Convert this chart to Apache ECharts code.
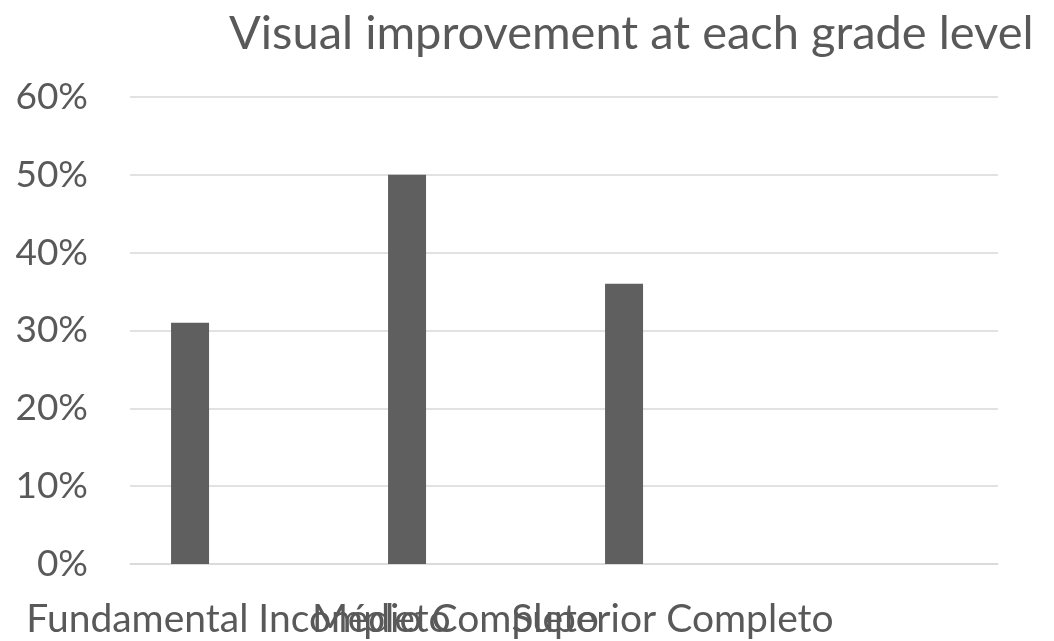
<!DOCTYPE html>
<html>
<head>
<meta charset="utf-8">
<script src="https://cdn.jsdelivr.net/npm/echarts@6/dist/echarts.min.js"></script>
<style>
html,body{margin:0;padding:0;background:#fff;}
#chart{width:1054px;height:641px;}
</style>
</head>
<body>
<div id="chart"></div>
<script>
const titleText = 'Visual improvement at each grade level';
const categories = ['Fundamental Incompleto', 'Médio Completo', 'Superior Completo', ''];
const improvement = [0.31, 0.50, 0.36, null];
const emptySeries = [null, null, null, null];
const yTicks = [0, 0.1, 0.2, 0.3, 0.4, 0.5, 0.6];

const FONT = 'Lato';
const chart = echarts.init(document.getElementById('chart'));
chart.setOption({
  animation: false,
  title: {
    text: titleText,
    left: 224,
    top: 5,
    textStyle: {fontFamily: FONT, fontSize: 47, fontWeight: 'normal', color: '#595959'}
  },
  grid: {left: 130, right: 56, top: 97, bottom: 77, containLabel: false},
  xAxis: {
    type: 'category',
    data: categories,
    axisLine: {show: true, lineStyle: {color: '#d9d9d9', width: 1.5}},
    axisTick: {show: false},
    axisLabel: {interval: 0, margin: 36, fontFamily: FONT, fontSize: 39, color: '#595959', overflow: 'none', hideOverlap: false}
  },
  yAxis: {
    type: 'value',
    min: yTicks[0],
    max: yTicks[yTicks.length - 1],
    interval: 0.1,
    axisLine: {show: false},
    axisTick: {show: false},
    splitLine: {lineStyle: {color: '#d9d9d9', width: 1.5}},
    axisLabel: {
      margin: 42,
      fontFamily: FONT, fontSize: 37, color: '#595959',
      formatter: v => Math.round(v * 100) + '%'
    }
  },
  series: [
    {type: 'bar', name: 'Visual improvement', data: improvement, barWidth: 38, barGap: '155%',
     itemStyle: {color: '#5f5f5f'}},
    {type: 'bar', name: '', data: emptySeries, barWidth: 38, itemStyle: {color: '#5f5f5f'}}
  ]
});
</script>
</body>
</html>
